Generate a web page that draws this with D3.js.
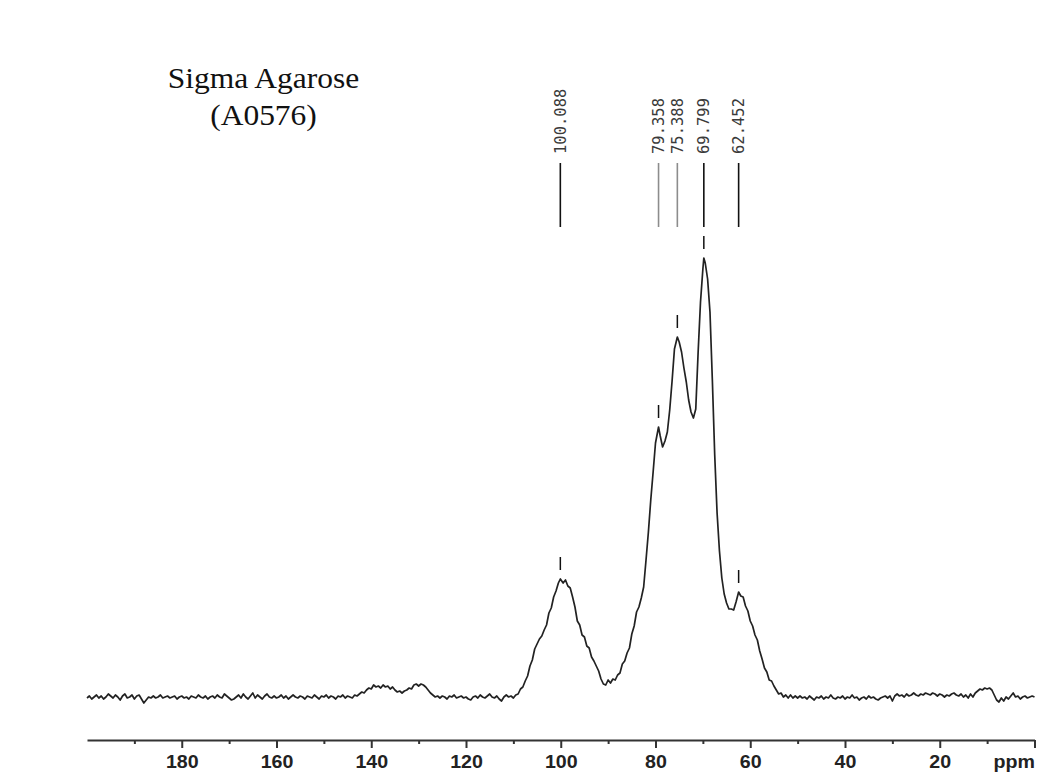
<!DOCTYPE html>
<html>
<head>
<meta charset="utf-8">
<script src="https://cdn.jsdelivr.net/npm/d3@7"></script>
<style>
  body { margin: 0; background: #ffffff; }
  svg { display: block; }
</style>
</head>
<body>
<svg id="chart" width="1037" height="773"></svg>
<script>
// 13C CP/MAS spectrum of agarose: [chemical shift (ppm), intensity (a.u.)]
const spectrum = [
  [200,-1],[199.5,1],[199,-2],[198.5,0],[198,2],[197.5,-1],[197,1],[196.5,-2],[196,0],[195.5,3],
  [195,1],[194.5,-1],[194,2],[193.5,0],[193,-3],[192.5,1],[192,3],[191.5,-1],[191,0],[190.5,2],
  [190,-2],[189.5,1],[189,2],[188.5,-2],[188,-6],[187.5,-3],[187,0],[186.5,-1],[186,1],[185.5,-1],
  [185,0],[184.5,2],[184,-1],[183.5,0],[183,1],[182.5,-1],[182,0],[181.5,1],[181,-2],[180.5,0],
  [180,1],[179.5,-1],[179,0],[178.5,-2],[178,1],[177.5,0],[177,-1],[176.5,2],[176,0],[175.5,-1],
  [175,1],[174.5,-2],[174,0],[173.5,1],[173,-1],[172.5,2],[172,0],[171.5,-1],[171,3],[170.5,1],
  [170,-1],[169.5,-3],[169,-2],[168.5,0],[168,2],[167.5,-1],[167,3],[166.5,0],[166,-2],[165.5,1],
  [165,4],[164.5,-1],[164,2],[163.5,0],[163,-2],[162.5,1],[162,3],[161.5,0],[161,-1],[160.5,1],
  [160,-1],[159.5,0],[159,2],[158.5,-1],[158,1],[157.5,-2],[157,0],[156.5,2],[156,0],[155.5,-1],
  [155,1],[154.5,0],[154,-2],[153.5,1],[153,0],[152.5,-1],[152,2],[151.5,0],[151,-2],[150.5,1],
  [150,0],[149.5,2],[149,-1],[148.5,1],[148,0],[147.5,-2],[147,1],[146.5,0],[146,2],[145.5,-1],
  [145,1],[144.5,0],[144,-1],[143.5,2],
  [143,1],[142.5,3],[142,5],[141.5,4],[141,7],[140.5,9],[140,8],[139.5,12],[139,10],[138.5,11],
  [138,9],[137.5,12],[137,10],[136.5,11],[136,8],[135.5,10],[135,7],[134.5,5],[134,6],[133.5,4],
  [133,6],[132.5,7],[132,9],[131.5,8],[131,12],[130.5,13],[130,11],[129.5,13],[129,12],[128.5,10],
  [128,7],[127.5,4],[127,2],[126.5,0],[126,1],
  [125.5,-1],[125,1],[124.5,0],[124,-2],[123.5,1],[123,0],[122.5,2],[122,-1],[121.5,0],[121,1],
  [120.5,-1],[120,0],[119.5,-2],[119,-3],[118.5,0],[118,1],[117.5,-1],[117,2],[116.5,0],[116,-1],
  [115.5,1],[115,3],[114.5,0],[114,-1],[113.5,1],[113,-2],[112.5,-4],[112,0],[111.5,2],[111,0],
  [110.5,1],[110,-1],[109.5,2],[109,3],[108.5,8],[108,10],[107.5,16],[107,21],[106.5,31],[106,37],
  [105.5,48],[105,53],[104.5,58],[104,61],[103.5,67],[103,72],[102.5,84],[102,89],[101.5,100],[101,106],
  [100.5,114],[100.088,118],[99.5,114],[99,117],[98.5,111],[98,109],[97.5,100],[97,90],[96.5,76],[96,72],
  [95.5,62],[95,60],[94.5,51],[94,49],[93.5,40],[93,36],[92.5,31],[92,26],[91.5,18],[91,13],
  [90.5,12],[90,17],[89.5,14],[89,18],[88.5,17],[88,22],[87.5,24],[87,33],[86.5,36],[86,44],
  [85.5,49],[85,63],[84.5,71],[84,85],[83.5,90],[83,99],[82.5,110],[82,137],[81.5,165],[81,197],
  [80.5,225],[80,254],[79.358,270],[79,261],[78.5,250],[78,256],[77.5,265],[77,287],[76.5,316],[76,348],
  [75.388,360],[75,355],[74.5,345],[74,329],[73.5,315],[73,297],[72.5,285],[72,279],[71.5,288],[71,345],
  [70.5,395],[70,428],[69.799,439],[69.5,434],[69,418],[68.5,385],[68,317],[67.5,242],[67,184],[66.5,146],
  [66,119],[65.5,103],[65,94],[64.5,88],[64,88],[63.5,87],[63,95],[62.452,105],[62,101],[61.5,100],
  [61,91],[60.5,86],[60,76],[59.5,71],[59,62],[58.5,57],[58,46],[57.5,38],[57,29],[56.5,25],
  [56,17],[55.5,16],[55,11],[54.5,7],[54,3],[53.5,4],[53,0],[52.5,2],[52,-1],[51.5,2],
  [51,-1],[50.5,1],[50,-1],
  [49.5,1],[49,-1],[48.5,0],[48,-2],[47.5,1],[47,-1],[46.5,-3],[46,0],[45.5,-1],[45,1],
  [44.5,-2],[44,0],[43.5,-1],[43,2],[42.5,-1],[42,-2],[41.5,0],[41,-1],[40.5,1],[40,-2],
  [39.5,0],[39,-1],[38.5,2],[38,-1],[37.5,0],[37,-3],[36.5,-1],[36,0],[35.5,-2],[35,1],
  [34.5,-1],[34,0],[33.5,-2],[33,-3],[32.5,-1],[32,0],[31.5,1],[31,-1],[30.5,1],[30,-4],
  [29.5,1],[29,3],[28.5,1],[28,2],[27.5,0],[27,3],[26.5,1],[26,2],[25.5,4],[25,2],
  [24.5,1],[24,3],[23.5,2],[23,4],[22.5,3],[22,2],[21.5,4],[21,3],[20.5,1],[20,3],
  [19.5,2],[19,0],[18.5,2],[18,1],[17.5,3],[17,4],[16.5,2],[16,1],[15.5,3],[15,0],
  [14.5,2],[14,-1],[13.5,3],[13,0],[12.5,4],[12,6],[11.5,8],[11,7],[10.5,9],[10,8],
  [9.5,9],[9,7],[8.5,2],[8,-3],[7.5,-5],[7,-1],[6.5,-4],[6,0],[5.5,-2],[5,1],
  [4.5,4],[4,0],[3.5,1],[3,-2],[2.5,0],[2,1],[1.5,-1],[1,0],[0.5,1],[0,0]
];

// Picked peaks (ppm) and their printed labels
const peakShifts = [100.088, 79.358, 75.388, 69.799, 62.452];
const peakLabels = ["100.088", "79.358", "75.388", "69.799", "62.452"];

// Axis ticks
const majorTicks = [180, 160, 140, 120, 100, 80, 60, 40, 20, 0];
const minorTicks = [190, 170, 150, 130, 110, 90, 70, 50, 30, 10];
const tickLabels = ["180", "160", "140", "120", "100", "80", "60", "40", "20", "ppm"];

const titleLines = ["Sigma Agarose", "(A0576)"];

const svg = d3.select("#chart");

// chemical shift axis runs high to low, left to right
const x = d3.scaleLinear().domain([200, 0]).range([87, 1034.5]);
const y = d3.scaleLinear().domain([0, 439]).range([697, 258]);

// sample title
const title = svg.append("g").attr("class", "title");
title.selectAll("text")
  .data(titleLines)
  .join("text")
  .attr("transform", (d, i) => `translate(263.5,${88 + i * 36.5}) scale(1.05,1)`)
  .attr("text-anchor", "middle")
  .attr("font-family", "'Liberation Serif', 'Times New Roman', serif")
  .attr("font-size", 30)
  .attr("fill", "#111")
  .text(d => d);

// spectrum trace
const line = d3.line()
  .x(d => x(d[0]))
  .y(d => y(d[1]))
  .curve(d3.curveLinear);

svg.append("path")
  .datum(spectrum)
  .attr("fill", "none")
  .attr("stroke", "#222")
  .attr("stroke-width", 1.7)
  .attr("stroke-linejoin", "round")
  .attr("d", line);

// intensity at a picked shift
const heightAt = s => {
  const p = d3.least(spectrum, d => Math.abs(d[0] - s));
  return p[1];
};

// crowded labels get lighter connectors
const crowded = s => peakShifts.some(o => o !== s && Math.abs(o - s) < 5);

const peaks = svg.append("g").attr("class", "peaks");
const pk = peaks.selectAll("g")
  .data(peakShifts.map((s, i) => ({ shift: s, label: peakLabels[i] })))
  .join("g");

pk.append("text")
  .attr("transform", d => `translate(${x(d.shift)},154) rotate(-90)`)
  .attr("dy", "0.36em")
  .attr("font-family", "'DejaVu Sans Mono', monospace")
  .attr("font-size", 15.5)
  .attr("fill", "#3a3a3a")
  .text(d => d.label);

pk.append("line")
  .attr("x1", d => x(d.shift))
  .attr("x2", d => x(d.shift))
  .attr("y1", 163)
  .attr("y2", 227)
  .attr("stroke", d => crowded(d.shift) ? "#8c8c8c" : "#111")
  .attr("stroke-width", 1.6);

// small pick markers above each peak
pk.append("line")
  .attr("x1", d => x(d.shift))
  .attr("x2", d => x(d.shift))
  .attr("y1", d => y(heightAt(d.shift)) - 22)
  .attr("y2", d => y(heightAt(d.shift)) - 9)
  .attr("stroke", "#111")
  .attr("stroke-width", 1.5);

// minor ticks
svg.append("g")
  .attr("transform", "translate(0,740)")
  .call(d3.axisBottom(x).tickValues(minorTicks).tickSize(4).tickSizeOuter(0).tickFormat(""))
  .call(g => g.select(".domain").remove())
  .call(g => g.selectAll(".tick line").attr("stroke", "#333").attr("stroke-width", 2));

// major ticks, labels and axis line
const axis = svg.append("g")
  .attr("transform", "translate(0,740)")
  .call(d3.axisBottom(x)
    .tickValues(majorTicks)
    .tickSize(8)
    .tickSizeOuter(0)
    .tickPadding(0)
    .tickFormat((d, i) => tickLabels[i]));

axis.select(".domain").attr("stroke", "#333").attr("stroke-width", 2);
axis.selectAll(".tick line").attr("stroke", "#333").attr("stroke-width", 2);
axis.selectAll(".tick text")
  .attr("y", 0)
  .attr("dy", 0)
  .attr("transform", "translate(0,27.5) scale(1.09,1)")
  .attr("font-family", "'Liberation Sans', Arial, sans-serif")
  .attr("font-weight", "bold")
  .attr("font-size", 18)
  .attr("fill", "#222")
  .attr("text-anchor", (d, i) => tickLabels[i] === "ppm" ? "end" : "middle");
</script>
</body>
</html>
